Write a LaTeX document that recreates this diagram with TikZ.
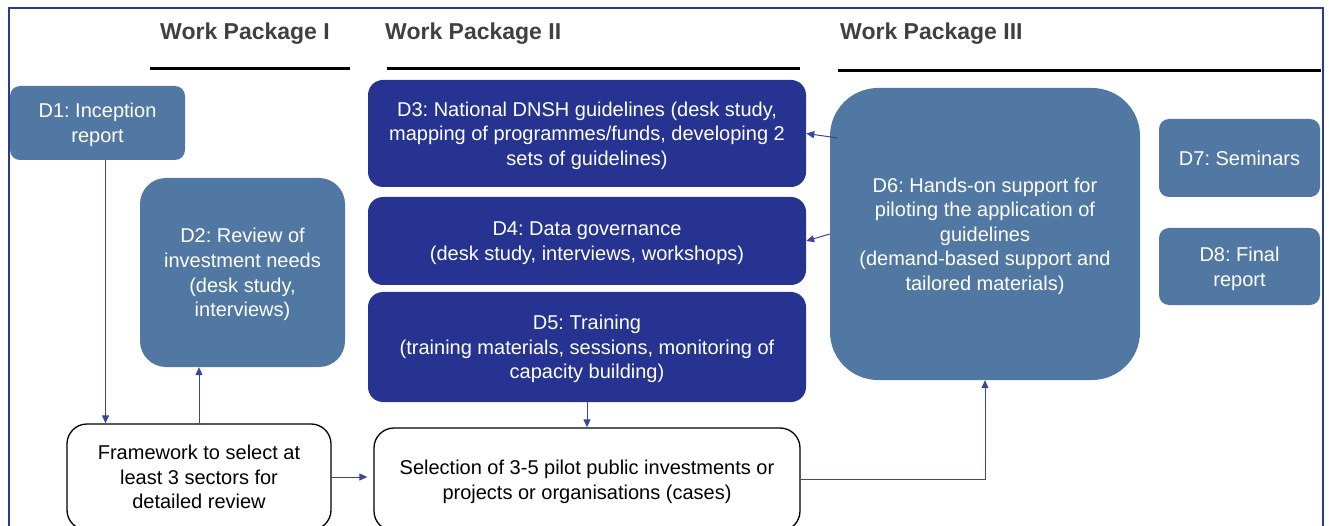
\documentclass[tikz,border=0pt]{standalone}
\usepackage{fontspec}
\setmainfont{Liberation Sans}
\usetikzlibrary{arrows.meta,calc}
\definecolor{steel}{HTML}{5078A3}
\definecolor{navy}{HTML}{263390}
\definecolor{framecol}{HTML}{2B3990}
\definecolor{arrcol}{HTML}{3A45A0}
\definecolor{headgray}{HTML}{404040}
\frenchspacing
\begin{document}
\begin{tikzpicture}[x=1pt,y=-1pt,
  box/.style={rectangle,inner sep=0pt,align=center,text=white,
    font=\fontsize{20}{24.6}\selectfont,text depth=-3pt},
  lightbox/.style={box,fill=steel},
  darkbox/.style={box,fill=navy},
  whitebox/.style={box,fill=white,draw=black,line width=1.3pt,text=black,
    rounded corners=20pt,text depth=-1pt},
  header/.style={anchor=base west,inner sep=0pt,text=headgray,
    font=\fontsize{23}{27}\selectfont\bfseries},
  rule/.style={line width=3pt,black},
  arr/.style={draw=arrcol,line width=1pt,-{Triangle[length=8pt,width=7pt]}}]
\useasboundingbox (0,0) rectangle (1329,526);
\clip (0,0) rectangle (1329,526);

% outer frame, open at the bottom
\draw[framecol,line width=2pt] (8.5,540) -- (8.5,8.5) -- (1322.5,8.5) -- (1322.5,540);

% work package headings
\node[header] (wp1) at (160,39.5) {Work Package I};
\node[header] (wp2) at (385,39.5) {Work Package II};
\node[header] (wp3) at (840,39.5) {Work Package III};
\draw[rule] (150,68.5) -- (350,68.5);
\draw[rule] (387,68.5) -- (800,68.5);
\draw[rule] (838,70.5) -- (1321,70.5);

% deliverables
\node[lightbox,rounded corners=10pt,minimum width=175pt,minimum height=74pt] (d1) at (97.5,123)
  {D1: Inception\\report};
\node[lightbox,rounded corners=26pt,minimum width=205pt,minimum height=189pt] (d2) at (242.5,272.5)
  {D2: Review of\\investment needs\\(desk study,\\interviews)};
\node[darkbox,rounded corners=15pt,minimum width=438pt,minimum height=107pt] (d3) at (587,133.5)
  {D3: National DNSH guidelines (desk study,\\mapping of programmes/funds, developing 2\\sets of guidelines)};
\node[darkbox,rounded corners=15pt,minimum width=438pt,minimum height=88pt] (d4) at (587,241)
  {D4: Data governance\\(desk study, interviews, workshops)};
\node[darkbox,rounded corners=15pt,minimum width=438pt,minimum height=110pt] (d5) at (587,347)
  {D5: Training\\(training materials, sessions, monitoring of\\capacity building)};
\node[lightbox,rounded corners=48pt,minimum width=310pt,minimum height=292pt] (d6) at (985,234)
  {D6: Hands-on support for\\piloting the application of\\guidelines\\(demand-based support and\\tailored materials)};
\node[lightbox,rounded corners=10pt,minimum width=161pt,minimum height=78pt] (d7) at (1239.5,158)
  {D7: Seminars};
\node[lightbox,rounded corners=10pt,minimum width=161pt,minimum height=77pt] (d8) at (1239.5,266.5)
  {D8: Final\\report};

% selection steps
\node[whitebox,minimum width=264pt,minimum height=106pt] (fw) at (199,477)
  {Framework to select at\\least 3 sectors for\\detailed review};
\node[whitebox,minimum width=426pt,minimum height=103pt] (sel) at (587,479.5)
  {Selection of 3-5 pilot public investments or\\projects or organisations (cases)};

% connectors
\coordinate (d6a) at (838,138);
\draw[arr] ([xshift=8pt]d1.south) -- ([xshift=8pt]d1.south |- fw.north);
\draw[arr] (fw.north) -- (fw.north |- d2.south);
\draw[arr] (d5.south) -- (sel.north);
\draw[arr] (fw.east) -- ([xshift=-6pt]sel.west |- fw.east);
\draw[arr] (sel.east) -| (d6.south);
\draw[arr] (d6a) -- (d3.east);
\draw[arr] (d6.west) -- (d4.east);
\end{tikzpicture}
\end{document}
